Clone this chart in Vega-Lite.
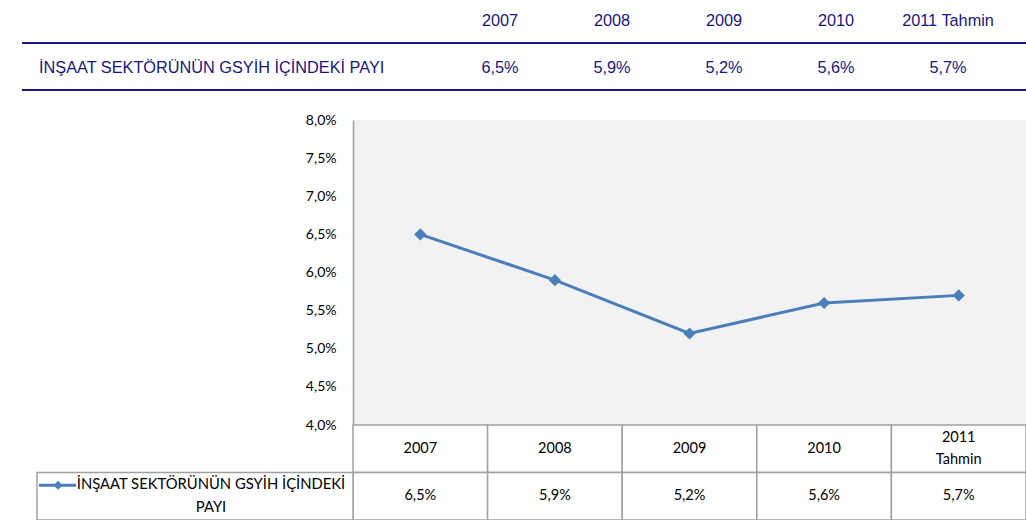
{
  "$schema": "https://vega.github.io/schema/vega-lite/v6.json",
  "width": 673,
  "height": 305,
  "autosize": {"type": "none"},
  "padding": {"left": 353, "top": 120, "right": 0, "bottom": 95},
  "background": "white",
  "config": {
    "view": {"stroke": null, "fill": "#f2f2f2"},
    "locale": {"number": {"decimal": ",", "thousands": ".", "grouping": [3], "currency": ["", ""], "percent": "%"}}
  },
  "datasets": {
    "rows": [
      {"year": "2007", "value": 0.065},
      {"year": "2008", "value": 0.059},
      {"year": "2009", "value": 0.052},
      {"year": "2010", "value": 0.056},
      {"year": "2011 Tahmin", "value": 0.057}
    ],
    "series": [{"series": "İNŞAAT SEKTÖRÜNÜN GSYİH İÇİNDEKİ PAYI"}]
  },
  "resolve": {"scale": {"x": "independent", "y": "independent"}, "axis": {"x": "independent", "y": "independent"}},
  "layer": [
    {
      "data": {"name": "rows"},
      "mark": {"type": "line", "color": "#4a7ebb", "strokeWidth": 3, "point": {"shape": "diamond", "size": 150, "filled": true, "fill": "#4a7ebb", "color": "#4a7ebb"}},
      "encoding": {
        "x": {"field": "year", "type": "nominal", "sort": null, "scale": {"type": "point", "padding": 0.5}, "axis": null},
        "y": {"field": "value", "type": "quantitative", "scale": {"domain": [0.04, 0.08], "nice": false, "zero": false},
          "axis": {"orient": "left", "values": [0.04, 0.045, 0.05, 0.055, 0.06, 0.065, 0.07, 0.075, 0.08], "format": ".1%", "grid": false, "ticks": false, "domainColor": "#a0a0a0", "domainWidth": 1.5, "labelFont": "Lato", "labelFontSize": 14, "labelColor": "#000000", "labelPadding": 17, "labelFlush": false, "labelOverlap": false, "title": null}}
      }
    },
    {
      "data": {"name": "rows"},
      "encoding": {
        "x": {"field": "year", "type": "nominal", "sort": null, "scale": {"type": "band", "paddingInner": 0, "paddingOuter": 0}, "axis": null}
      },
      "layer": [
        {"mark": {"type": "rect", "fill": "white", "stroke": "#a0a0a0", "strokeWidth": 1.5},
          "encoding": {"y": {"datum": "h", "type": "nominal", "scale": {"type": "band", "domain": ["h", "v"], "range": [305, 400], "paddingInner": 0, "paddingOuter": 0}, "axis": null}}},
        {"mark": {"type": "rect", "fill": "white", "stroke": "#a0a0a0", "strokeWidth": 1.5},
          "encoding": {"y": {"datum": "v", "type": "nominal", "axis": null}}},
        {"transform": [{"filter": "datum.year != '2011 Tahmin'"}],
          "mark": {"type": "text", "font": "Lato", "fontSize": 14.5, "color": "#000000", "baseline": "middle", "align": "center"},
          "encoding": {"x": {"field": "year", "type": "nominal", "sort": null, "bandPosition": 0.5, "axis": null},
            "y": {"datum": "h", "type": "nominal", "bandPosition": 0.5, "axis": null},
            "text": {"field": "year"}}},
        {"transform": [{"filter": "datum.year == '2011 Tahmin'"}],
          "mark": {"type": "text", "font": "Lato", "fontSize": 14.5, "color": "#000000", "lineBreak": " ", "lineHeight": 22, "baseline": "middle", "align": "center", "dy": -11},
          "encoding": {"x": {"field": "year", "type": "nominal", "sort": null, "bandPosition": 0.5, "axis": null},
            "y": {"datum": "h", "type": "nominal", "bandPosition": 0.5, "axis": null},
            "text": {"field": "year"}}},
        {"mark": {"type": "text", "font": "Lato", "fontSize": 14.5, "color": "#000000", "baseline": "middle", "align": "center"},
          "encoding": {"x": {"field": "year", "type": "nominal", "sort": null, "bandPosition": 0.5, "axis": null},
            "y": {"datum": "v", "type": "nominal", "bandPosition": 0.5, "axis": null},
            "text": {"field": "value", "format": ".1%"}}}
      ]
    },
    {
      "data": {"name": "series"},
      "layer": [
        {"mark": {"type": "rect", "fill": "white", "stroke": "#a0a0a0", "strokeWidth": 1.5},
          "encoding": {"x": {"datum": "head", "type": "nominal", "scale": {"type": "band", "domain": ["head"], "range": [-316, 0], "paddingInner": 0, "paddingOuter": 0}, "axis": null},
            "y": {"datum": "v", "type": "nominal", "scale": {"type": "band", "domain": ["h", "v"], "range": [305, 400], "paddingInner": 0, "paddingOuter": 0}, "axis": null}}},
        {"mark": {"type": "text", "font": "Lato", "fontSize": 14.8, "color": "#000000", "baseline": "middle", "align": "center", "lineHeight": 23, "dx": 16, "dy": -11},
          "encoding": {"x": {"datum": "head", "type": "nominal", "bandPosition": 0.5, "axis": null},
            "y": {"datum": "v", "type": "nominal", "bandPosition": 0.5, "axis": null},
            "text": {"value": ["İNŞAAT SEKTÖRÜNÜN GSYİH İÇİNDEKİ", "PAYI"]}}},
        {"mark": {"type": "rule", "color": "#4a7ebb", "strokeWidth": 3, "xOffset": -156, "x2Offset": -119, "yOffset": -11},
          "encoding": {"x": {"datum": "head", "type": "nominal", "axis": null},
            "x2": {"datum": "head"},
            "y": {"datum": "v", "type": "nominal", "bandPosition": 0.5, "axis": null}}},
        {"mark": {"type": "point", "shape": "diamond", "size": 80, "filled": true, "fill": "#4a7ebb", "opacity": 1, "xOffset": -137, "yOffset": -11},
          "encoding": {"x": {"datum": "head", "type": "nominal", "axis": null},
            "y": {"datum": "v", "type": "nominal", "bandPosition": 0.5, "axis": null}}}
      ]
    },
    {
      "data": {"name": "rows"},
      "encoding": {
        "x": {"field": "year", "type": "nominal", "sort": null, "bandPosition": 0.5, "scale": {"type": "band", "range": [91, 651], "paddingInner": 0, "paddingOuter": 0}, "axis": null}
      },
      "layer": [
        {"mark": {"type": "text", "font": "Liberation Sans", "fontSize": 16.3, "color": "#17177f", "baseline": "middle", "align": "center"},
          "encoding": {"y": {"datum": "header", "type": "nominal", "bandPosition": 0.5, "scale": {"type": "band", "domain": ["header", "value"], "range": [-123, -29], "paddingInner": 0, "paddingOuter": 0}, "axis": null},
            "text": {"field": "year"}}},
        {"mark": {"type": "text", "font": "Liberation Sans", "fontSize": 16.3, "color": "#17177f", "baseline": "middle", "align": "center"},
          "encoding": {"y": {"datum": "value", "type": "nominal", "bandPosition": 0.5, "axis": null},
            "text": {"field": "value", "format": ".1%"}}}
      ]
    },
    {
      "data": {"name": "series"},
      "mark": {"type": "text", "font": "Liberation Sans", "fontSize": 16.3, "color": "#17177f", "baseline": "middle", "align": "left"},
      "encoding": {
        "x": {"datum": "head", "type": "nominal", "bandPosition": 0, "scale": {"type": "band", "domain": ["head"], "range": [-314, 0], "paddingInner": 0, "paddingOuter": 0}, "axis": null},
        "y": {"datum": "value", "type": "nominal", "bandPosition": 0.5, "scale": {"type": "band", "domain": ["header", "value"], "range": [-123, -29], "paddingInner": 0, "paddingOuter": 0}, "axis": null},
        "text": {"field": "series"}
      }
    },
    {
      "data": {"name": "series"},
      "encoding": {
        "x": {"datum": 0, "type": "quantitative", "scale": {"domain": [0, 1], "range": [-331, 673], "nice": false, "zero": false}, "axis": null},
        "x2": {"datum": 1}
      },
      "layer": [
        {"mark": {"type": "rule", "color": "#17177f", "strokeWidth": 2.2},
          "encoding": {"y": {"datum": "value", "type": "nominal", "bandPosition": 0, "scale": {"type": "band", "domain": ["header", "value"], "range": [-124, -30], "paddingInner": 0, "paddingOuter": 0}, "axis": null}}},
        {"mark": {"type": "rule", "color": "#17177f", "strokeWidth": 2.2},
          "encoding": {"y": {"datum": "value", "type": "nominal", "bandPosition": 1, "axis": null}}}
      ]
    }
  ]
}
